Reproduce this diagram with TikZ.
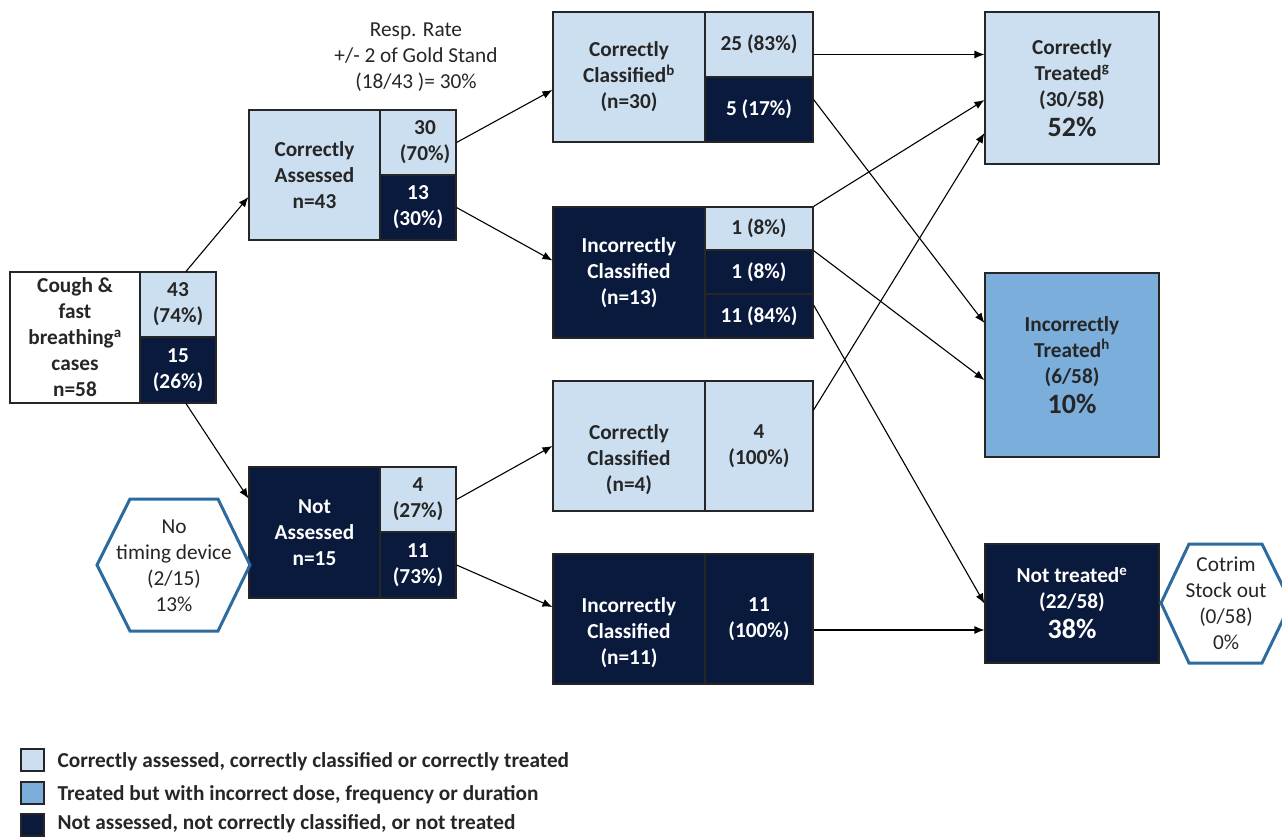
\documentclass[tikz,border=0pt]{standalone}
\usepackage{fontspec}
\setmainfont{Carlito}
\usetikzlibrary{arrows.meta}
\definecolor{paleblue}{HTML}{CCDFF1}
\definecolor{midblue}{HTML}{7BAEDB}
\definecolor{navy}{HTML}{0A1A3D}
\definecolor{hexline}{HTML}{2D6B9F}
\definecolor{inktext}{HTML}{262626}
\newcommand{\boxfont}{\fontsize{21.3}{26}\selectfont}
\newcommand{\bigpct}{\fontsize{28}{30}\selectfont}
\begin{document}
\begin{tikzpicture}[x=1pt, y=-1pt, >={Latex[length=10pt,width=8pt]}]
\tikzstyle{every node}=[draw=black!85,line width=1.1pt,inner sep=0pt,align=center,font=\bfseries\boxfont]
\tikzstyle{pale}=[fill=paleblue,text=inktext]
\tikzstyle{deep}=[fill=navy,text=white]
\tikzstyle{mid}=[fill=midblue,text=inktext]
\tikzstyle{plain}=[draw=none,font=\boxfont,text=inktext]
\tikzstyle{link}=[->,line width=1.1pt]
\useasboundingbox (0,0) rectangle (1282,836);
% first column
\node[rectangle,fill=white,text=inktext,minimum width=130,minimum height=131](cough) at (75,337.5) {Cough \&\\fast\\breathing\textsuperscript{a}\\cases\\n=58};
\node[rectangle,pale,minimum width=76,minimum height=65](cough43) at (178,304.5) {43\\(74\%)};
\node[rectangle,deep,minimum width=76,minimum height=66](cough15) at (178,370) {15\\(26\%)};
% assessed
\node[rectangle,pale,minimum width=131,minimum height=130](ca) at (314.5,175) {Correctly\\Assessed\\n=43};
\node[rectangle,pale,minimum width=76,minimum height=65](ca30) at (418,142.5) {\hspace*{14pt}30\\\hspace*{14pt}(70\%)};
\node[rectangle,deep,minimum width=76,minimum height=65](ca13) at (418,207.5) {13\\(30\%)};
\node[rectangle,deep,minimum width=131,minimum height=131](na) at (314.5,532.5) {Not\\Assessed\\n=15};
\node[rectangle,pale,minimum width=76,minimum height=65](na4) at (418,499.5) {4\\(27\%)};
\node[rectangle,deep,minimum width=76,minimum height=66](na11) at (418,565) {11\\(73\%)};
\node[plain](resp) at (416,57) {Resp. Rate\\+/- 2 of Gold Stand\\(18/43 )= 30\%};
% classified
\node[rectangle,pale,minimum width=152,minimum height=130](ccb) at (629,77) {Correctly\\Classified\textsuperscript{b}\\(n=30)};
\node[rectangle,pale,minimum width=108,minimum height=65](cc25) at (759,44.5) {25 (83\%)};
\node[rectangle,deep,minimum width=108,minimum height=65](cc5) at (759,109.5) {5 (17\%)};
\node[rectangle,deep,minimum width=152,minimum height=131](ic) at (629,272.5) {Incorrectly\\Classified\\(n=13)};
\node[rectangle,pale,minimum width=108,minimum height=43](ic1a) at (759,228.5) {1 (8\%)};
\node[rectangle,deep,minimum width=108,minimum height=44](ic1b) at (759,272) {1 (8\%)};
\node[rectangle,deep,minimum width=108,minimum height=44](ic11) at (759,316) {11 (84\%)};
\node[rectangle,pale,minimum width=152,minimum height=130,label={[draw=none,yshift=-14pt,text=inktext]center:Correctly\\Classified\\(n=4)}](cc4) at (629,446) {};
\node[rectangle,pale,minimum width=108,minimum height=130](cc4r) at (759,446) {4\\(100\%)};
\node[rectangle,deep,minimum width=152,minimum height=130,label={[draw=none,yshift=-14pt,text=white]center:Incorrectly\\Classified\\(n=11)}](ic11l) at (629,619) {};
\node[rectangle,deep,minimum width=108,minimum height=130](ic11r) at (759,619) {11\\(100\%)};
% treated
\node[rectangle,pale,minimum width=174,minimum height=152](ct) at (1072,88) {Correctly\\Treated\textsuperscript{g}\\(30/58)\\[4pt]{\bigpct 52\%}};
\node[rectangle,mid,minimum width=174,minimum height=184](it) at (1072,365) {Incorrectly\\Treated\textsuperscript{h}\\(6/58)\\[4pt]{\bigpct 10\%}};
\node[rectangle,deep,minimum width=174,minimum height=119](nt) at (1072,603.5) {Not treated\textsuperscript{e}\\(22/58)\\[4pt]{\bigpct 38\%}};
% hexagons
\draw[hexline,line width=3pt] (97,565) -- (130,499) -- (218,499) -- (250,565) -- (218,631) -- (130,631) -- cycle;
\node[plain](timer) at (174,566) {No\\timing device\\(2/15)\\13\%};
\draw[hexline,line width=3pt] (1161,603) -- (1189,544) -- (1262,544) -- (1291,603) -- (1262,663) -- (1189,663) -- cycle;
\node[plain](cotrim) at (1226,603) {Cotrim\\Stock out\\(0/58)\\0\%};
% arrows
\draw[link] ([xshift=8pt]cough43.north) -- ([yshift=-22pt]ca.west);
\draw[link] ([xshift=8pt]cough15.south) -- ([yshift=34pt]na.west);
\draw[link] (ca30.east) -- ([yshift=-13pt]ccb.west);
\draw[link] (ca13.east) -- ([yshift=12pt]ic.west);
\draw[link] (na4.east) -- (cc4.west);
\draw[link] (na11.east) -- ([yshift=12pt]ic11l.west);
\draw[link] ([yshift=-10pt]cc25.east) -- ([yshift=-10pt]cc25.east -| ct.west);
\draw[link] ([yshift=10pt]cc5.east) -- ([yshift=42pt]it.west);
\draw[link] (ic1a.north east) -- ([yshift=-12pt]ct.west);
\draw[link] (ic1a.south east) -- ([yshift=-15pt]it.west);
\draw[link] ([yshift=11pt]ic11.east) -- (nt.west);
\draw[link] ([yshift=36pt]cc4r.east) -- ([yshift=-45pt]ct.west);
\draw[link] ([yshift=-11pt]ic11r.east) -- ([yshift=-11pt]ic11r.east -| nt.west);
% legend
\node[rectangle,pale,minimum width=23,minimum height=22](keypale) at (32.5,760) {};
\node[rectangle,mid,minimum width=23,minimum height=22](keymid) at (32.5,793) {};
\node[rectangle,deep,minimum width=23,minimum height=22](keydeep) at (32.5,825) {};
\node[plain,font=\bfseries\boxfont,anchor=west](txtpale) at (57,762) {Correctly assessed, correctly classified or correctly treated};
\node[plain,font=\bfseries\boxfont,anchor=west](txtmid) at (57,795) {Treated but with incorrect dose, frequency or duration};
\node[plain,font=\bfseries\boxfont,anchor=west](txtdeep) at (57,824) {Not assessed, not correctly classified, or not treated};
\end{tikzpicture}
\end{document}
